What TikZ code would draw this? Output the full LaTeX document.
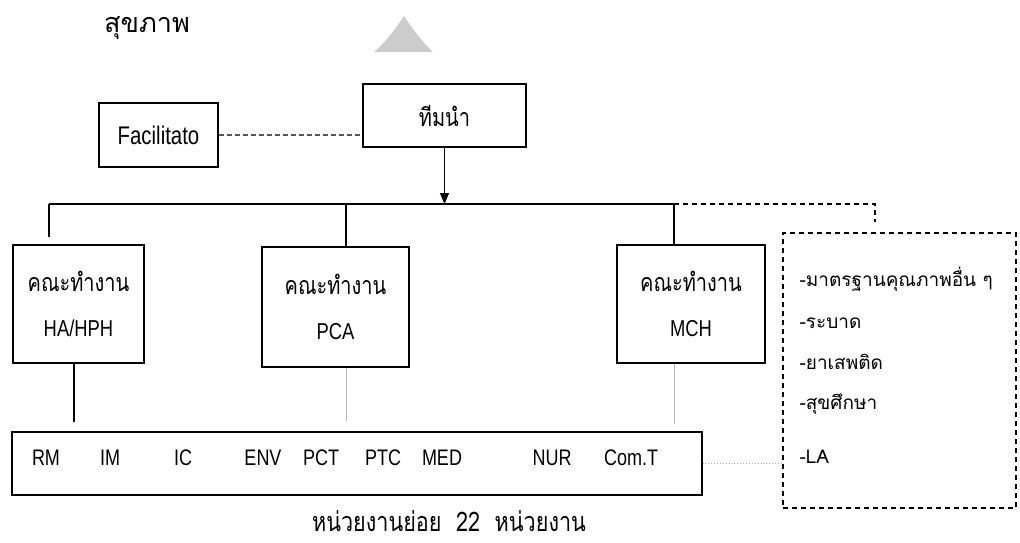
\documentclass[tikz,border=0pt]{standalone}
\usepackage{fontspec}
\setmainfont{Liberation Sans}[FakeStretch=0.8]
\newfontfamily\thai[Script=Thai]{Loma}
\newfontfamily\thaic[Script=Thai,FakeStretch=0.8]{Loma}
\usetikzlibrary{arrows.meta}
\tikzset{
  box/.style={draw, line width=1.1pt, inner sep=0pt, align=center},
  group/.style={box, font=\fontsize{23}{45}\selectfont},
  wire/.style={line width=1.1pt},
  faint/.style={draw=gray!55, line width=0.8pt},
  dash box/.style={draw, line width=1.1pt, dash pattern=on 5pt off 4pt, inner sep=0pt},
  unit/.style={font=\fontsize{22.5}{24}\selectfont, anchor=center},
  item/.style={font=\thai\fontsize{19}{21}\selectfont, anchor=west},
}
\begin{document}
\begin{tikzpicture}[x=1pt,y=-1pt]
\useasboundingbox (0,0) rectangle (1020,543);

% heading and marker
\node[font=\thai\fontsize{27}{29}\selectfont] (title) at (147,28) {สุขภาพ};
\fill[gray!40] (374,52) .. controls (385,43) and (397,27) .. (404,16)
  .. controls (411,27) and (423,43) .. (433,52) -- cycle;

% top level
\node[box, minimum width=119pt, minimum height=64pt, font=\fontsize{25.5}{27}\selectfont]
  (fac) at (158.5,135) {Facilitato};
\node[box, minimum width=163pt, minimum height=63pt, font=\thaic\fontsize{25}{27}\selectfont]
  (lead) at (444.5,115.5) {ทีมนำ};

% working groups
\node[group, minimum width=131pt, minimum height=118pt]
  (ha) at (78.5,304) {{\thaic\fontsize{25}{45}\selectfont คณะทำงาน}\\HA/HPH};
\node[group, minimum width=147pt, minimum height=120pt]
  (pca) at (335.5,307) {{\thaic\fontsize{25}{45}\selectfont คณะทำงาน}\\PCA};
\node[group, minimum width=148pt, minimum height=118pt]
  (mch) at (691,304) {{\thaic\fontsize{25}{45}\selectfont คณะทำงาน}\\MCH};

% other topics
\node[dash box, minimum width=233pt, minimum height=275pt] (other) at (899.5,370.5) {};
\node[item] (o1) at (796,279) {-มาตรฐานคุณภาพอื่น ๆ};
\node[item] (o2) at (796,323) {-ระบาด};
\node[item] (o3) at (796,362) {-ยาเสพติด};
\node[item] (o4) at (796,404) {-สุขศึกษา};
\node[item] (o5) at (796,457) {-LA};

% sub-units
\node[box, minimum width=690pt, minimum height=63pt] (units) at (357,463.5) {};
\node[unit] (u1) at (46,458) {RM};
\node[unit] (u2) at (110,458) {IM};
\node[unit] (u3) at (183,458) {IC};
\node[unit] (u4) at (263,458) {ENV};
\node[unit] (u5) at (321,458) {PCT};
\node[unit] (u6) at (383,458) {PTC};
\node[unit] (u7) at (442,458) {MED};
\node[unit] (u8) at (552,458) {NUR};
\node[unit] (u9) at (631,458) {Com.T};
\node[font=\thaic\fontsize{27}{29}\selectfont] (cap) at (449,521) {หน่วยงานย่อย\ \ 22\ \ หน่วยงาน};

% bus coordinates
\coordinate (busL) at (49,204);
\coordinate (busP) at (346,204);
\coordinate (busR) at (674,204);
\coordinate (busD) at (875,204);
\coordinate (haDown) at (74,363);

% connectors
\draw[line width=1.1pt, draw=black!65, dash pattern=on 5pt off 3pt] (fac.east) -- (fac.east -| lead.west);
\draw[wire, -{Triangle[width=9pt,length=11pt]}] (lead.south) -- (lead.south |- busL);
\draw[wire] (busL) -- (busR);
\draw[wire, shorten >=7pt] (busL) -- (busL |- ha.north);
\draw[wire] (busP) -- (busP |- pca.north);
\draw[wire] (busR) -- (busR |- mch.north);
\draw[line width=1.1pt, dash pattern=on 5pt off 4pt, shorten >=10pt]
  (busR) -- (busD) -- (busD |- other.north);
\draw[wire, shorten >=9pt] (haDown) -- (haDown |- units.north);
\draw[faint, shorten >=10pt] (busP |- pca.south) -- (busP |- units.north);
\draw[faint, shorten >=7pt] (busR |- mch.south) -- (busR |- units.north);
\draw[draw=gray!70, line width=0.9pt, dotted] (units.east) -- (units.east -| other.west);
\end{tikzpicture}
\end{document}
